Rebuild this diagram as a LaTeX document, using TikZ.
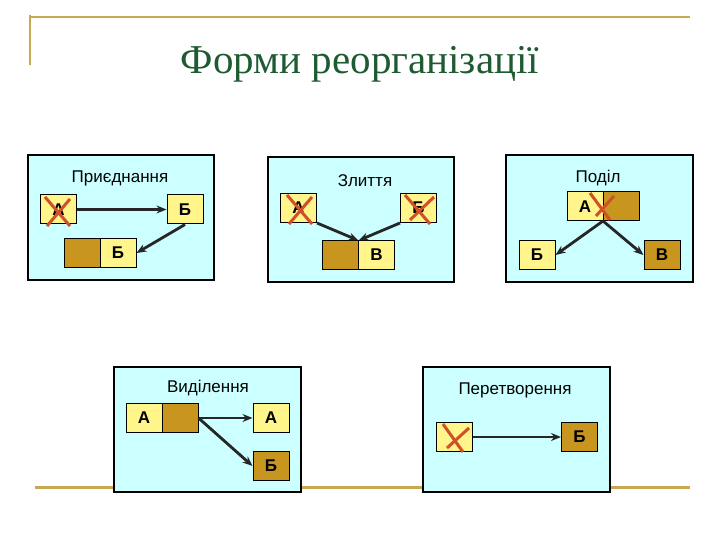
\documentclass[tikz,border=0pt]{standalone}
\usepackage{fontspec}
\setmainfont{Liberation Sans}
\newfontfamily\titlefont{Liberation Serif}
\usetikzlibrary{arrows.meta}
\definecolor{cy}{HTML}{CCFFFF}
\definecolor{ly}{HTML}{FFF58A}
\definecolor{dk}{HTML}{C8961E}
\definecolor{deco}{HTML}{C8A850}
\definecolor{tg}{HTML}{1E5A32}
\definecolor{xr}{HTML}{D0502A}
\tikzset{
 panel/.style={draw=black,fill=cy,line width=1.2pt},
 lbox/.style={draw=black,fill=ly,line width=1pt,minimum width=36pt,minimum height=29pt,inner sep=0pt,font=\fontsize{17}{17}\selectfont\bfseries},
 dbox/.style={lbox,fill=dk},
 ptitle/.style={font=\fontsize{17}{17}\selectfont},
 arr/.style={-{Stealth[length=10pt,width=8pt]},line width=2.8pt,draw=black!85},
 xmark/.style={draw=xr,line width=3pt}
}
\begin{document}
\begin{tikzpicture}[x=1pt,y=-1pt]
\useasboundingbox (0,0) rectangle (720,540);
\fill[white] (0,0) rectangle (720,540);
% decorations
\draw[deco,line width=2pt] (30,15) -- (30,65);
\draw[deco,line width=2pt] (30,17) -- (690,17);
\draw[deco,line width=3pt] (35,487) -- (690,487);
\node[font=\titlefont\fontsize{41}{41}\selectfont,text=tg] (title) at (360,64) {Форми реорганізації};
% Panel 1
\draw[panel] (28,155) rectangle (214,280);
\node[ptitle] (t1) at (120,178) {Приєднання};
\node[lbox] (a1) at (58.5,209.5) {А};
\draw[xmark] (45,197) -- (70,226) (70,199) -- (47,226);
\node[lbox] (b1) at (185,209.5) {Б};
\node[dbox] (d1) at (82,253) {};
\node[lbox] (b1c) at (118,253) {Б};
\draw[arr] (a1.east) -- (b1.west);
\draw[arr] (b1.south) -- (b1c.east);
% Panel 2
\draw[panel] (268,157) rectangle (454,282);
\node[ptitle] (t2) at (365,181) {Злиття};
\node[lbox] (a2) at (298.5,208) {А};
\draw[xmark] (287,195) -- (312,224) (312,197) -- (289,224);
\node[lbox] (b2) at (418.5,208) {Б};
\draw[xmark] (405,195) -- (430,224) (434,197) -- (410,220);
\node[dbox] (d2) at (340.5,255) {};
\node[lbox] (v2) at (376.5,255) {В};
\coordinate (j2) at (358.5,240.5);
\draw[arr] (a2.south east) -- (j2);
\draw[arr] (b2.south west) -- (j2);
% Panel 3
\draw[panel] (506,155) rectangle (693,282);
\node[ptitle] (t3) at (598,178) {Поділ};
\node[lbox] (a3) at (585,206.5) {А};
\node[dbox] (d3) at (621,206.5) {};
\draw[xmark] (590,193) -- (610,220) (614,196) -- (596,216);
\coordinate (j3) at (603,221);
\node[lbox] (b3) at (537,255) {Б};
\node[dbox] (v3) at (662,255) {В};
\draw[arr] (j3) -- (b3.east);
\draw[arr] (j3) -- (v3.west);
% Panel 4
\draw[panel] (114,367) rectangle (301,492);
\node[ptitle] (t4) at (208,388) {Виділення};
\node[lbox] (a4) at (144,418) {А};
\node[dbox] (d4) at (180,418) {};
\node[lbox] (a4b) at (271,418) {А};
\node[dbox] (b4) at (271,466) {Б};
\draw[arr] (d4.east) -- (a4b.west);
\draw[arr] (d4.east) -- (b4.west);
% Panel 5
\draw[panel] (423,367) rectangle (610,492);
\node[ptitle] (t5) at (515,390) {Перетворення};
\node[lbox] (a5) at (454,437) {};
\draw[xmark] (443,424) -- (463,452) (469,428) -- (447,448);
\node[dbox] (b5) at (579.5,437) {Б};
\draw[arr] (a5.east) -- (b5.west);
\end{tikzpicture}
\end{document}
